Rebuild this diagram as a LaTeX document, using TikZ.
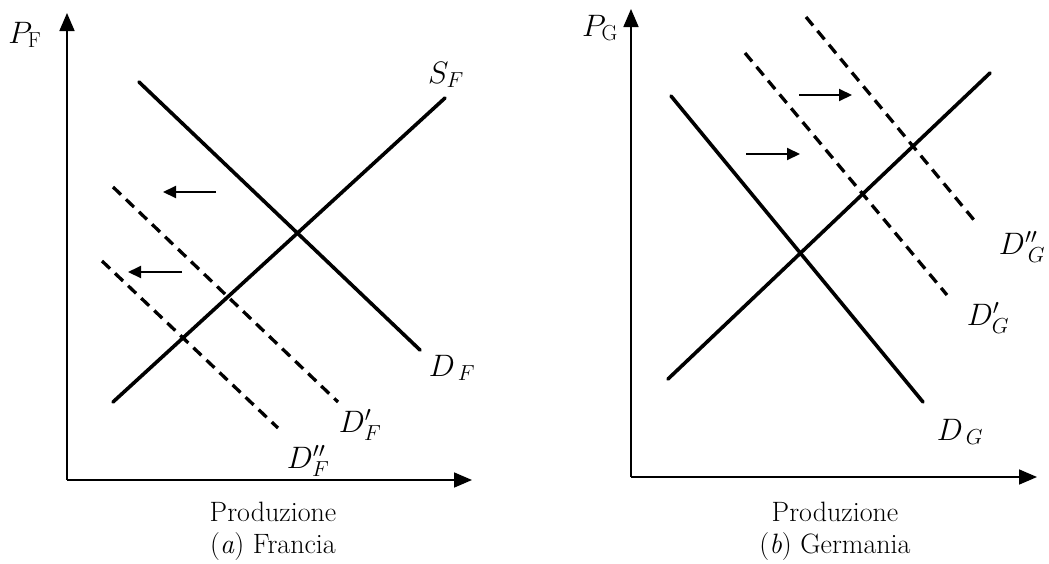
\RequirePackage{fix-cm}
\documentclass[tikz,border=0pt]{standalone}
\usetikzlibrary{arrows.meta}
\begin{document}
\begin{tikzpicture}[x=1pt,y=-1pt,
  axis/.style={line width=1.7pt,-{Triangle[length=18pt,width=15pt]}},
  curve/.style={line width=3.6pt,line cap=round},
  shifted/.style={line width=3.3pt,dash pattern=on 11pt off 7pt},
  shiftarrow/.style={line width=2pt,-{Triangle[length=13pt,width=12pt]}},
  lab/.style={font=\fontsize{31}{33}\selectfont, inner sep=0pt},
  txt/.style={font=\fontsize{28}{32}\selectfont, inner sep=0pt, align=center}]
\useasboundingbox (0,0) rectangle (1049,563);

% ---------- (a) Francia ----------
\coordinate (oF) at (67,480);
\coordinate (yF) at (67,13);
\coordinate (xF) at (472,480);
\draw[axis] (oF) -- (yF);
\draw[axis] (oF) -- (xF);

\coordinate (sF1) at (113,402); \coordinate (sF2) at (445,98);
\coordinate (dF1) at (139,82);  \coordinate (dF2) at (420,350);
\coordinate (dpF1) at (113,187); \coordinate (dpF2) at (338,402);
\coordinate (dppF1) at (102,261); \coordinate (dppF2) at (278,428);
\draw[curve] (sF1) -- (sF2);
\draw[curve] (dF1) -- (dF2);
\draw[shifted] (dpF1) -- (dpF2);
\draw[shifted] (dppF1) -- (dppF2);

\coordinate (aF1s) at (216,192); \coordinate (aF1e) at (163,192);
\coordinate (aF2s) at (182,272); \coordinate (aF2e) at (128,272);
\draw[shiftarrow] (aF1s) -- (aF1e);
\draw[shiftarrow] (aF2s) -- (aF2e);

\node[lab] (PF) at (25,35) {$P_{\mathrm{F}}$};
\node[lab] (SF) at (446,75) {$S_F$};
\node[lab] (DF) at (452,368) {$D_{\,F}$};
\node[lab] (DpF) at (360,425) {$D'_F$};
\node[lab] (DppF) at (308,461) {$D''_F$};
\node[txt] (capF) at (273,531) {Produzione\\(\textit{a}) Francia};

% ---------- (b) Germania ----------
\coordinate (oG) at (631,477);
\coordinate (yG) at (631,9);
\coordinate (xG) at (1037,477);
\draw[axis] (oG) -- (yG);
\draw[axis] (oG) -- (xG);

\coordinate (sG1) at (668,379); \coordinate (sG2) at (990,73);
\coordinate (dG1) at (671,96);  \coordinate (dG2) at (923,402);
\coordinate (dpG1) at (745,53); \coordinate (dpG2) at (947,295);
\coordinate (dppG1) at (806,17); \coordinate (dppG2) at (974,220);
\draw[curve] (sG1) -- (sG2);
\draw[curve] (dG1) -- (dG2);
\draw[shifted] (dpG1) -- (dpG2);
\draw[shifted] (dppG1) -- (dppG2);

\coordinate (aG1s) at (746,154); \coordinate (aG1e) at (800,154);
\coordinate (aG2s) at (799,95);  \coordinate (aG2e) at (852,95);
\draw[shiftarrow] (aG1s) -- (aG1e);
\draw[shiftarrow] (aG2s) -- (aG2e);

\node[lab] (PG) at (600,28) {$P_{\mathrm{G}}$};
\node[lab] (DG) at (960,432) {$D_{\,G}$};
\node[lab] (DpG) at (988,318) {$D'_G$};
\node[lab] (DppG) at (1022,247) {$D''_{\,G}$};
\node[txt] (capG) at (835,531) {Produzione\\(\textit{b}) Germania};
\end{tikzpicture}
\end{document}
